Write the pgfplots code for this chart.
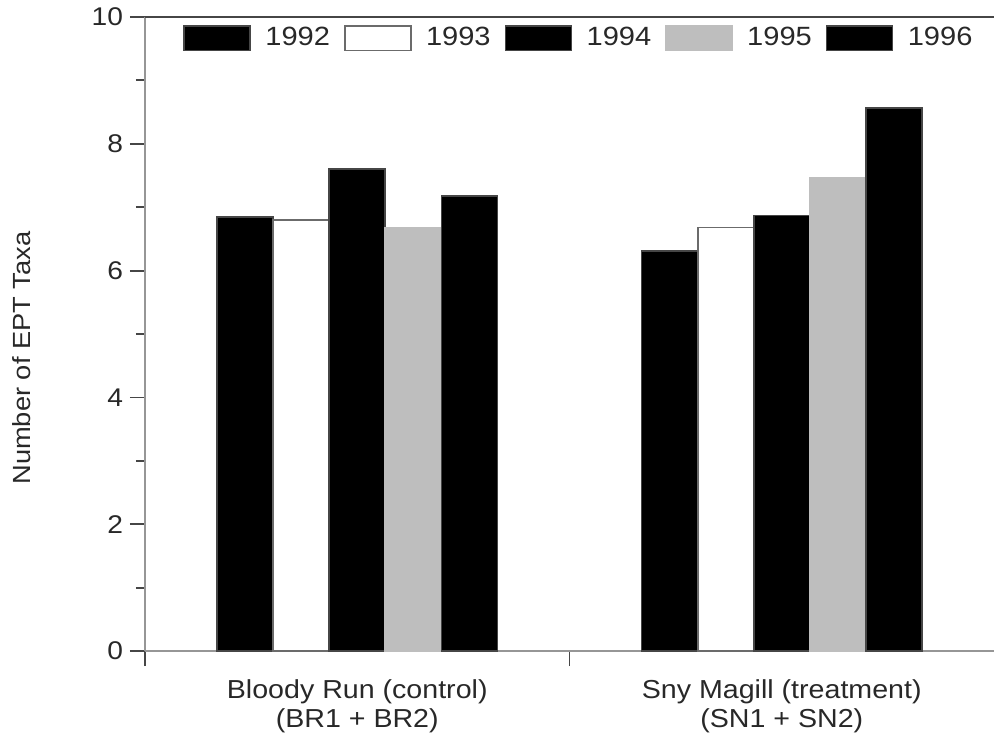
\documentclass[border=0pt]{standalone}
\usepackage{fontspec}
\setmainfont{Liberation Sans}[FakeStretch=1.1]
\usepackage{pgfplots}
\pgfplotsset{compat=1.18}
\definecolor{barfill}{RGB}{190,190,190}
\definecolor{edge}{RGB}{70,70,70}
\definecolor{spine}{RGB}{150,150,150}
\definecolor{txt}{RGB}{40,40,40}
\begin{document}
\begin{tikzpicture}
\begin{axis}[
  scale only axis,
  width=424.5pt, height=317pt,
  xmin=0, xmax=2, ymin=0, ymax=10,
  axis x line*=bottom, axis y line*=left,
  axis line style={spine, line width=1.4pt},
  font=\fontsize{12.8}{14}\selectfont,
  every tick label/.append style={text=txt},
  ytick={0,2,4,6,8,10},
  minor y tick num=1,
  yticklabel={\pgfmathprintnumber[assume math mode=true]{\tick}},
  tick align=outside,
  major tick length=7.5pt, minor tick length=4.5pt,
  every tick/.append style={edge, line width=0.9pt},
  xtick={0,1}, xticklabels={},
  extra x ticks={0.5,1.5},
  extra x tick labels={{Bloody Run (control)\\(BR1 + BR2)},{Sny Magill (treatment)\\(SN1 + SN2)}},
  extra x tick style={major tick length=0pt, tick style={draw=none},
    xticklabel style={align=center, yshift=-11pt, font=\fontsize{13}{14.5}\selectfont}},
  ylabel={Number of EPT Taxa},
  ylabel style={at={(axis description cs:-0.145,0.462)}, anchor=center, text=txt, font=\fontsize{12.4}{14}\selectfont},
  legend columns=5,
  legend style={at={(rel axis cs:0,1)}, anchor=north west, xshift=16pt, yshift=-1pt,
    draw=none, fill=none, font=\fontsize{13.2}{15}\selectfont, text=txt,
    /tikz/every even column/.append style={column sep=5pt},
    /tikz/every odd column/.append style={column sep=5.2pt}},
  legend image code/.code={\draw[#1] (0pt,-6.2pt) rectangle (33pt,6.2pt);},
  clip=false,
]
\addplot[ybar, bar shift=0pt, bar width=0.132, fill=black, draw=edge, line width=0.8pt]
  coordinates {(0.236,6.85) (1.236,6.31)};
\addlegendentry{1992}
\addplot[ybar, bar shift=0pt, bar width=0.132, fill=white, draw=edge!80, line width=0.8pt]
  coordinates {(0.368,6.80) (1.368,6.68)};
\addlegendentry{1993}
\addplot[ybar, bar shift=0pt, bar width=0.132, fill=black, draw=edge, line width=0.8pt]
  coordinates {(0.500,7.60) (1.500,6.87)};
\addlegendentry{1994}
\addplot[ybar, bar shift=0pt, bar width=0.132, fill=barfill, draw=barfill, line width=0.8pt]
  coordinates {(0.632,6.68) (1.632,7.47)};
\addlegendentry{1995}
\addplot[ybar, bar shift=0pt, bar width=0.132, fill=black, draw=edge, line width=0.8pt]
  coordinates {(0.764,7.18) (1.764,8.56)};
\addlegendentry{1996}
\draw[edge, line width=1.2pt] (rel axis cs:0,1) -- (rel axis cs:1,1);
\coordinate (SW) at (rel axis cs:0,0);
\coordinate (NE) at (rel axis cs:1,1);
\end{axis}
\pgfresetboundingbox
\path[use as bounding box] ([xshift=-72.5pt,yshift=-41.5pt]SW) rectangle ([yshift=8.5pt]NE);
\end{tikzpicture}
\end{document}
